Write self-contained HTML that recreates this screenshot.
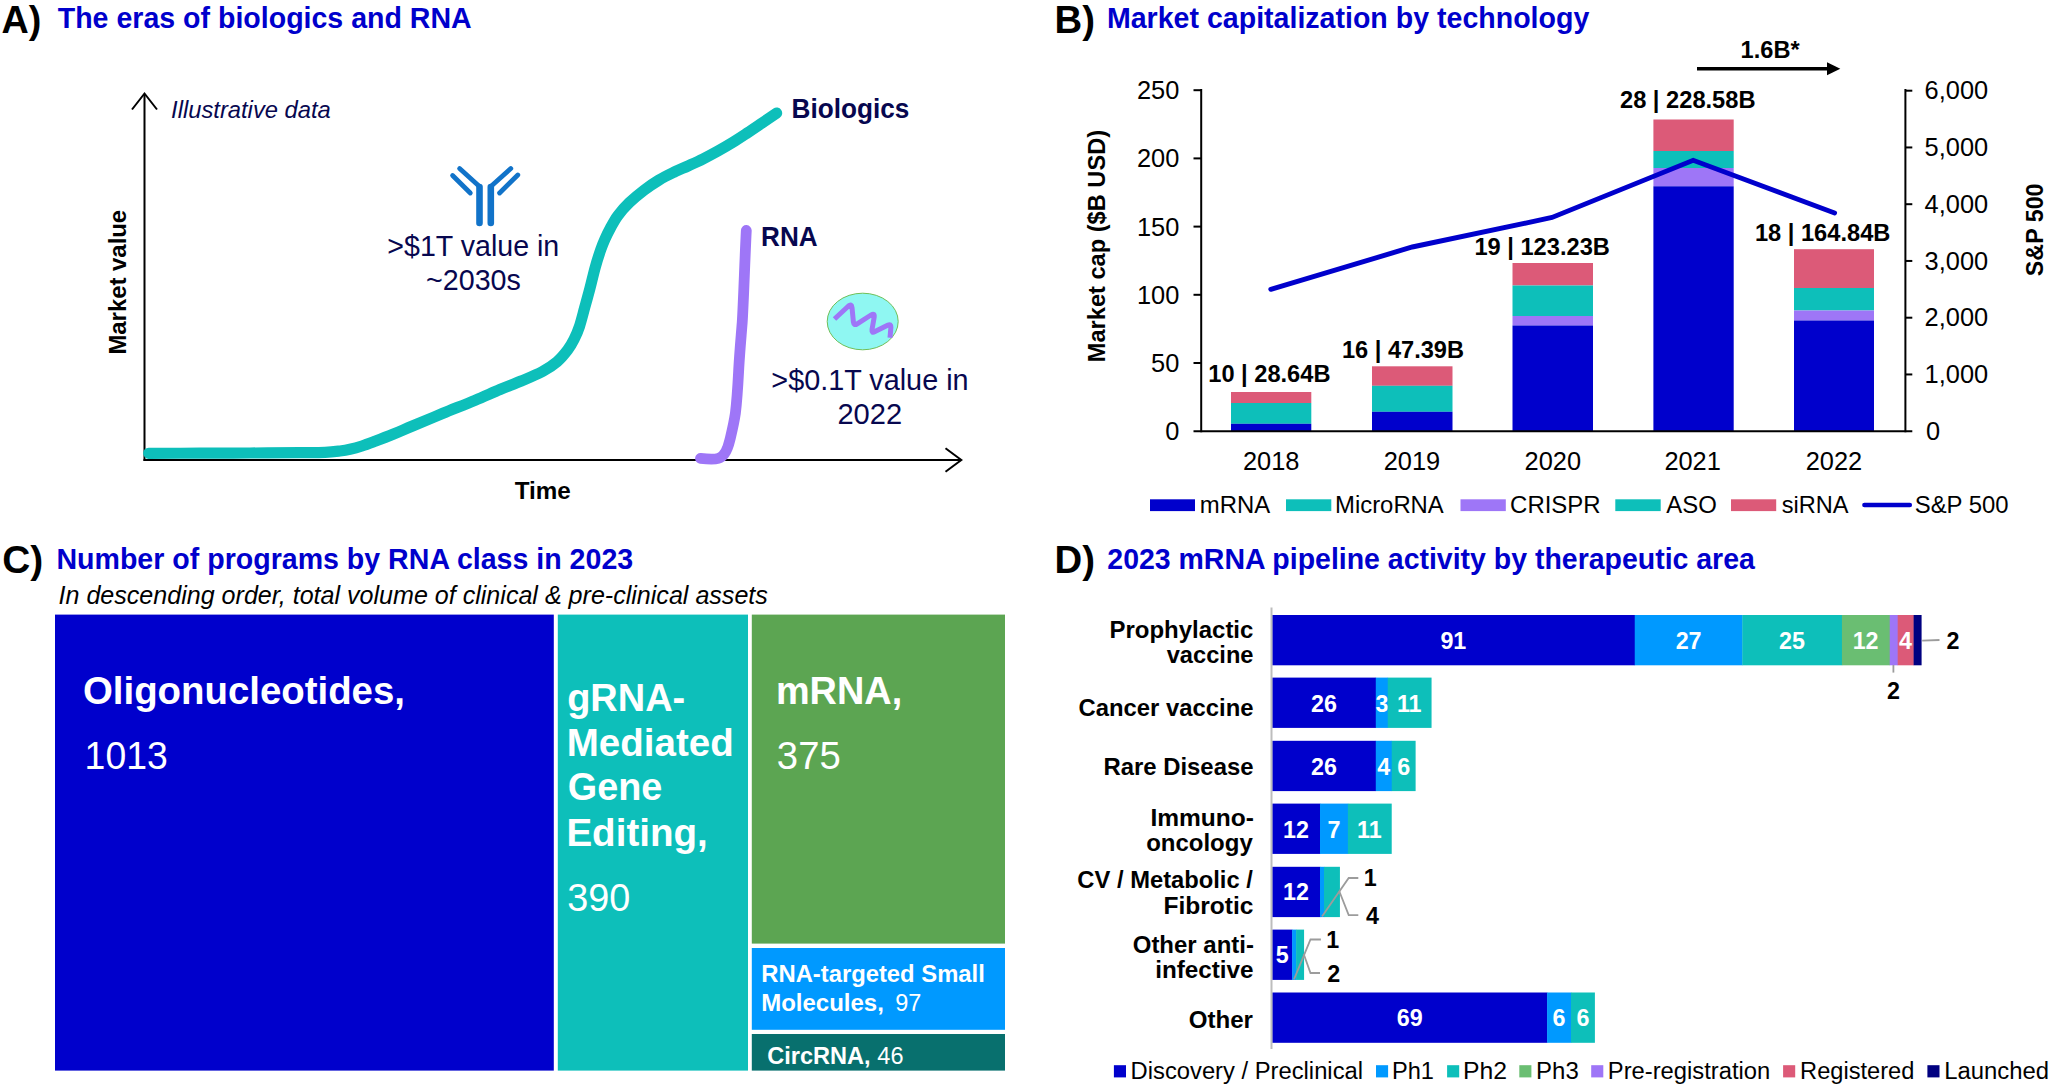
<!DOCTYPE html>
<html lang="en"><head><meta charset="utf-8"><title>RNA figure</title>
<style>html,body{margin:0;padding:0;background:#fff}svg{display:block}text{font-family:"Liberation Sans",sans-serif}</style></head><body>
<svg width="2050" height="1087" viewBox="0 0 2050 1087">
<rect width="2050" height="1087" fill="#fff"/>
<g id="panelA">
<text transform="translate(1.56,32.5) scale(0.9663,1)" font-size="39.07" fill="#000000" font-weight="bold" font-style="normal">A)</text>
<text transform="translate(57.71,27.5) scale(0.9788,1)" font-size="29.17" fill="#0000CC" font-weight="bold" font-style="normal">The eras of biologics and RNA</text>
<line x1="144.5" y1="94" x2="144.5" y2="461" stroke="#000000" stroke-width="2" />
<line x1="143.5" y1="460" x2="961" y2="460" stroke="#000000" stroke-width="2" />
<polyline points="132,109.5 144.5,93.5 157,109.5" fill="none" stroke="#000" stroke-width="2"/>
<polyline points="945.5,448.3 961.3,460 945.5,471.7" fill="none" stroke="#000" stroke-width="2"/>
<text transform="translate(171.05,117.6) scale(0.9786,1)" font-size="24.28" fill="#07074F" font-weight="normal" font-style="italic">Illustrative data</text>
<text transform="translate(126,354.55) rotate(-90) scale(0.9800,1)" font-size="24.38" fill="#000000" font-weight="bold">Market value</text>
<text transform="translate(514.76,499.4) scale(0.9817,1)" font-size="24.68" fill="#000000" font-weight="bold" font-style="normal">Time</text>
<path d="M148.7,453.3 C157.25,453.28 183.12,453.25 200,453.2 C216.88,453.15 233.33,453.08 250,453 C266.67,452.92 287.5,452.8 300,452.7 C312.5,452.6 318.33,452.68 325,452.4 C331.67,452.12 335.83,451.52 340,451 C344.17,450.48 346.33,450.13 350,449.3 C353.67,448.47 357.83,447.33 362,446 C366.17,444.67 369.83,443.25 375,441.3 C380.17,439.35 386.75,436.85 393,434.3 C399.25,431.75 404.17,429.5 412.5,426 C420.83,422.5 432.58,417.58 443,413.3 C453.42,409.02 465.5,404.27 475,400.3 C484.5,396.33 492.3,392.72 500,389.5 C507.7,386.28 514.15,383.98 521.2,381 C528.25,378.02 536.32,374.82 542.3,371.6 C548.28,368.38 552.87,365.32 557.1,361.7 C561.33,358.08 564.87,353.63 567.7,349.9 C570.53,346.17 572.15,343.18 574.1,339.3 C576.05,335.42 577.63,331.88 579.4,326.6 C581.17,321.32 582.95,313.95 584.7,307.6 C586.45,301.25 588.15,295.2 589.9,288.5 C591.65,281.8 593.38,273.9 595.2,267.4 C597.02,260.9 599.17,254.23 600.8,249.5 C602.43,244.77 603.42,242.53 605,239 C606.58,235.47 608.18,232.17 610.3,228.3 C612.42,224.43 614.52,220.08 617.7,215.8 C620.88,211.52 624.98,206.88 629.4,202.6 C633.82,198.32 639.28,193.85 644.2,190.1 C649.12,186.35 654,183.05 658.9,180.1 C663.8,177.15 668.7,174.78 673.6,172.4 C678.5,170.02 683.4,168.05 688.3,165.8 C693.2,163.55 698.1,161.35 703,158.9 C707.9,156.45 712.78,153.83 717.7,151.1 C722.62,148.37 727.58,145.52 732.5,142.5 C737.42,139.48 742.3,136.23 747.2,133 C752.1,129.77 757,126.42 761.9,123.1 C766.8,119.78 774.15,114.77 776.6,113.1" fill="none" stroke="#0DBFBA" stroke-width="11.2" stroke-linecap="round" stroke-linejoin="round"/>
<path d="M700.5,458.4 C708,459.2 714,459.6 718.4,458.4 C724,456.8 727.5,450 729.8,440.3 C732,431 734,423 735.4,413.2 C737.3,398 738,383 738.8,367.9 C739.7,352 741,338 742.2,322.6 C743.4,305 744.8,260 746.3,230.5" fill="none" stroke="#9E76F7" stroke-width="10.8" stroke-linecap="round" stroke-linejoin="round"/>
<text transform="translate(791.6,118.1) scale(0.9793,1)" font-size="26.72" fill="#07074F" font-weight="bold" font-style="normal">Biologics</text>
<text transform="translate(761.1,246.1) scale(0.9776,1)" font-size="26.72" fill="#07074F" font-weight="bold" font-style="normal">RNA</text>
<text transform="translate(387.37,255.7) scale(0.9769,1)" font-size="29.27" fill="#07074F" font-weight="normal" font-style="normal">&gt;$1T value in</text>
<text transform="translate(426.01,290) scale(0.9795,1)" font-size="29.27" fill="#07074F" font-weight="normal" font-style="normal">~2030s</text>
<text transform="translate(771.36,390) scale(0.9843,1)" font-size="29.27" fill="#07074F" font-weight="normal" font-style="normal">&gt;$0.1T value in</text>
<text transform="translate(837.45,424) scale(0.9936,1)" font-size="29.27" fill="#07074F" font-weight="normal" font-style="normal">2022</text>
<g stroke="#1173C9" stroke-width="6.6" stroke-linecap="round" fill="none"><line x1="479.5" y1="187" x2="479.5" y2="223"/><line x1="490.8" y1="187" x2="490.8" y2="223"/><line x1="479.5" y1="186.5" x2="459.6" y2="168.5" stroke-width="4.8"/><line x1="490.8" y1="186.5" x2="510.8" y2="168.5" stroke-width="4.8"/><line x1="470.3" y1="193" x2="452.6" y2="175.5" stroke-width="4.8"/><line x1="499.6" y1="193" x2="517.8" y2="175" stroke-width="4.8"/></g>
<ellipse cx="862.7" cy="321.5" rx="35.5" ry="28.3" fill="#8FF7F2" stroke="#70BF58" stroke-width="1"/>
<path d="M834.5,319 L848.5,306 Q851.5,303.4 852,307.5 L853.4,322 Q853.8,326 857.2,323.8 L871,315 Q874.8,312.6 874.2,317 L872,329.6 Q871.4,333.6 875,331.6 L887.6,325.2 Q891.2,323.4 890.9,327.4 L890,337.8" fill="none" stroke="#9E76F7" stroke-width="5" stroke-linejoin="round"/>
</g>
<g id="panelB">
<text transform="translate(1054.51,32.5) scale(0.9802,1)" font-size="39.07" fill="#000000" font-weight="bold" font-style="normal">B)</text>
<text transform="translate(1106.94,27.5) scale(0.9793,1)" font-size="29.17" fill="#0000CC" font-weight="bold" font-style="normal">Market capitalization by technology</text>
<text transform="translate(1740.58,57.6) scale(0.9811,1)" font-size="24.07" fill="#000000" font-weight="bold" font-style="normal">1.6B*</text>
<line x1="1697" y1="68.8" x2="1828" y2="68.8" stroke="#000000" stroke-width="3.5" />
<polygon points="1827,62.3 1840.3,68.8 1827,75.3" fill="#000"/>
<rect x="1231" y="392" width="80.3" height="11" fill="#DC5A78"/>
<rect x="1231" y="403" width="80.3" height="20.8" fill="#0DBFBA"/>
<rect x="1231" y="423.8" width="80.3" height="7.2" fill="#0000CC"/>
<rect x="1372" y="366.3" width="80.5" height="19.5" fill="#DC5A78"/>
<rect x="1372" y="385.8" width="80.5" height="26" fill="#0DBFBA"/>
<rect x="1372" y="411.8" width="80.5" height="19.2" fill="#0000CC"/>
<rect x="1512.5" y="263" width="80.5" height="22.5" fill="#DC5A78"/>
<rect x="1512.5" y="285.5" width="80.5" height="30.5" fill="#0DBFBA"/>
<rect x="1512.5" y="316" width="80.5" height="9.5" fill="#9E76F7"/>
<rect x="1512.5" y="325.5" width="80.5" height="105.5" fill="#0000CC"/>
<rect x="1653.4" y="119.5" width="80.3" height="31.5" fill="#DC5A78"/>
<rect x="1653.4" y="151" width="80.3" height="17" fill="#0DBFBA"/>
<rect x="1653.4" y="168" width="80.3" height="18.3" fill="#9E76F7"/>
<rect x="1653.4" y="186.3" width="80.3" height="244.7" fill="#0000CC"/>
<rect x="1794" y="249.2" width="80" height="38.8" fill="#DC5A78"/>
<rect x="1794" y="288" width="80" height="22.5" fill="#0DBFBA"/>
<rect x="1794" y="310.5" width="80" height="10" fill="#9E76F7"/>
<rect x="1794" y="320.5" width="80" height="110.5" fill="#0000CC"/>
<line x1="1201.2" y1="89" x2="1201.2" y2="432.2" stroke="#000000" stroke-width="2" />
<line x1="1905.4" y1="89" x2="1905.4" y2="432.2" stroke="#000000" stroke-width="2" />
<line x1="1193.5" y1="431.2" x2="1912.3" y2="431.2" stroke="#000000" stroke-width="2" />
<text transform="translate(1165.19,440.2) scale(0.9803,1)" font-size="25.91" fill="#000000" font-weight="normal" font-style="normal">0</text>
<line x1="1193.5" y1="363" x2="1201.2" y2="363" stroke="#000000" stroke-width="2" />
<text transform="translate(1151.1,372) scale(0.9803,1)" font-size="25.91" fill="#000000" font-weight="normal" font-style="normal">50</text>
<line x1="1193.5" y1="294.8" x2="1201.2" y2="294.8" stroke="#000000" stroke-width="2" />
<text transform="translate(1137,303.8) scale(0.9803,1)" font-size="25.91" fill="#000000" font-weight="normal" font-style="normal">100</text>
<line x1="1193.5" y1="226.6" x2="1201.2" y2="226.6" stroke="#000000" stroke-width="2" />
<text transform="translate(1137,235.6) scale(0.9803,1)" font-size="25.91" fill="#000000" font-weight="normal" font-style="normal">150</text>
<line x1="1193.5" y1="158.4" x2="1201.2" y2="158.4" stroke="#000000" stroke-width="2" />
<text transform="translate(1137,167.4) scale(0.9803,1)" font-size="25.91" fill="#000000" font-weight="normal" font-style="normal">200</text>
<line x1="1193.5" y1="90.2" x2="1201.2" y2="90.2" stroke="#000000" stroke-width="2" />
<text transform="translate(1137,99.2) scale(0.9803,1)" font-size="25.91" fill="#000000" font-weight="normal" font-style="normal">250</text>
<text transform="translate(1926.09,439.9) scale(0.9803,1)" font-size="25.91" fill="#000000" font-weight="normal" font-style="normal">0</text>
<line x1="1905.4" y1="374.45" x2="1912.3" y2="374.45" stroke="#000000" stroke-width="2" />
<text transform="translate(1924.59,383.15) scale(0.9803,1)" font-size="25.91" fill="#000000" font-weight="normal" font-style="normal">1,000</text>
<line x1="1905.4" y1="317.7" x2="1912.3" y2="317.7" stroke="#000000" stroke-width="2" />
<text transform="translate(1924.59,326.4) scale(0.9803,1)" font-size="25.91" fill="#000000" font-weight="normal" font-style="normal">2,000</text>
<line x1="1905.4" y1="260.95" x2="1912.3" y2="260.95" stroke="#000000" stroke-width="2" />
<text transform="translate(1924.59,269.65) scale(0.9803,1)" font-size="25.91" fill="#000000" font-weight="normal" font-style="normal">3,000</text>
<line x1="1905.4" y1="204.2" x2="1912.3" y2="204.2" stroke="#000000" stroke-width="2" />
<text transform="translate(1924.59,212.9) scale(0.9803,1)" font-size="25.91" fill="#000000" font-weight="normal" font-style="normal">4,000</text>
<line x1="1905.4" y1="147.45" x2="1912.3" y2="147.45" stroke="#000000" stroke-width="2" />
<text transform="translate(1924.59,156.15) scale(0.9803,1)" font-size="25.91" fill="#000000" font-weight="normal" font-style="normal">5,000</text>
<line x1="1905.4" y1="90.7" x2="1912.3" y2="90.7" stroke="#000000" stroke-width="2" />
<text transform="translate(1924.59,99.4) scale(0.9803,1)" font-size="25.91" fill="#000000" font-weight="normal" font-style="normal">6,000</text>
<text transform="translate(1242.92,469.6) scale(0.9803,1)" font-size="25.91" fill="#000000" font-weight="normal" font-style="normal">2018</text>
<text transform="translate(1383.68,469.6) scale(0.9803,1)" font-size="25.91" fill="#000000" font-weight="normal" font-style="normal">2019</text>
<text transform="translate(1524.55,469.6) scale(0.9803,1)" font-size="25.91" fill="#000000" font-weight="normal" font-style="normal">2020</text>
<text transform="translate(1664.38,469.6) scale(0.9803,1)" font-size="25.91" fill="#000000" font-weight="normal" font-style="normal">2021</text>
<text transform="translate(1805.74,469.6) scale(0.9803,1)" font-size="25.91" fill="#000000" font-weight="normal" font-style="normal">2022</text>
<polyline points="1270.8,289.3 1412.3,247 1552,217.5 1693.2,160.3 1834.6,213" fill="none" stroke="#0000CC" stroke-width="4.9" stroke-linecap="round" stroke-linejoin="miter"/>
<text transform="translate(1208.28,381.6) scale(0.9778,1)" font-size="24.17" fill="#000000" font-weight="bold" font-style="normal">10 | 28.64B</text>
<text transform="translate(1341.88,358.1) scale(0.9778,1)" font-size="24.17" fill="#000000" font-weight="bold" font-style="normal">16 | 47.39B</text>
<text transform="translate(1474.38,254.9) scale(0.9791,1)" font-size="24.17" fill="#000000" font-weight="bold" font-style="normal">19 | 123.23B</text>
<text transform="translate(1619.97,107.6) scale(0.9799,1)" font-size="24.17" fill="#000000" font-weight="bold" font-style="normal">28 | 228.58B</text>
<text transform="translate(1754.88,240.6) scale(0.9791,1)" font-size="24.17" fill="#000000" font-weight="bold" font-style="normal">18 | 164.84B</text>
<text transform="translate(1105,362.24) rotate(-90) scale(0.9817,1)" font-size="24.07" fill="#000000" font-weight="bold">Market cap ($B USD)</text>
<text transform="translate(2042.6,276.2) rotate(-90) scale(0.9800,1)" font-size="23.77" fill="#000000" font-weight="bold">S&amp;P 500</text>
<rect x="1150" y="499.3" width="45" height="11.8" fill="#0000CC"/>
<text transform="translate(1199.75,513) scale(0.9801,1)" font-size="24.38" fill="#000000" font-weight="normal" font-style="normal">mRNA</text>
<rect x="1286" y="499.3" width="45.3" height="11.8" fill="#0DBFBA"/>
<text transform="translate(1335.09,513) scale(0.9789,1)" font-size="24.38" fill="#000000" font-weight="normal" font-style="normal">MicroRNA</text>
<rect x="1460.5" y="499.3" width="45.3" height="11.8" fill="#9E76F7"/>
<text transform="translate(1510.1,513) scale(0.9831,1)" font-size="24.38" fill="#000000" font-weight="normal" font-style="normal">CRISPR</text>
<rect x="1615.3" y="499.3" width="45.4" height="11.8" fill="#0DBFBA"/>
<text transform="translate(1666.3,513) scale(0.9812,1)" font-size="24.38" fill="#000000" font-weight="normal" font-style="normal">ASO</text>
<rect x="1731" y="499.3" width="45.2" height="11.8" fill="#DC5A78"/>
<text transform="translate(1781.79,513) scale(0.9668,1)" font-size="24.38" fill="#000000" font-weight="normal" font-style="normal">siRNA</text>
<line x1="1864.4" y1="505" x2="1909.8" y2="505" stroke="#0000CC" stroke-width="4.5" stroke-linecap="round"/>
<text transform="translate(1914.72,513) scale(0.9802,1)" font-size="24.38" fill="#000000" font-weight="normal" font-style="normal">S&amp;P 500</text>
</g>
<g id="panelC">
<text transform="translate(2.25,573.2) scale(0.9946,1)" font-size="39.07" fill="#000000" font-weight="bold" font-style="normal">C)</text>
<text transform="translate(56.44,568.8) scale(0.9797,1)" font-size="29.17" fill="#0000CC" font-weight="bold" font-style="normal">Number of programs by RNA class in 2023</text>
<text transform="translate(58.5,604.4) scale(0.9801,1)" font-size="25.6" fill="#000000" font-weight="normal" font-style="italic">In descending order, total volume of clinical &amp; pre-clinical assets</text>
<rect x="55" y="614.6" width="498.8" height="456" fill="#0000CC"/>
<rect x="557.8" y="614.6" width="190.2" height="456" fill="#0DBFBA"/>
<rect x="751.8" y="614.6" width="253.2" height="329" fill="#5CA552"/>
<rect x="751.8" y="948" width="253.2" height="81.8" fill="#0099FF"/>
<rect x="751.8" y="1034" width="253.2" height="36.6" fill="#08706E"/>
<text transform="translate(82.96,704.3) scale(0.9805,1)" font-size="39.17" fill="#FFFFFF" font-weight="bold" font-style="normal">Oligonucleotides,</text>
<text transform="translate(84.6,769.4) scale(0.9571,1)" font-size="39.07" fill="#FFFFFF" font-weight="normal" font-style="normal">1013</text>
<text transform="translate(567.18,710.6) scale(0.9690,1)" font-size="39.17" fill="#FFFFFF" font-weight="bold" font-style="normal">gRNA-</text>
<text transform="translate(566.8,755.8) scale(0.9835,1)" font-size="39.17" fill="#FFFFFF" font-weight="bold" font-style="normal">Mediated</text>
<text transform="translate(567.79,800.1) scale(0.9654,1)" font-size="39.17" fill="#FFFFFF" font-weight="bold" font-style="normal">Gene</text>
<text transform="translate(566.39,845.8) scale(0.9851,1)" font-size="39.17" fill="#FFFFFF" font-weight="bold" font-style="normal">Editing,</text>
<text transform="translate(567.19,911) scale(0.9675,1)" font-size="39.07" fill="#FFFFFF" font-weight="normal" font-style="normal">390</text>
<text transform="translate(775.94,704.4) scale(0.9669,1)" font-size="39.17" fill="#FFFFFF" font-weight="bold" font-style="normal">mRNA,</text>
<text transform="translate(776.87,769.4) scale(0.9786,1)" font-size="39.07" fill="#FFFFFF" font-weight="normal" font-style="normal">375</text>
<text transform="translate(761.25,982) scale(0.9939,1)" font-size="23.97" fill="#FFFFFF" font-weight="bold" font-style="normal">RNA-targeted Small</text>
<text transform="translate(761.24,1010.7) scale(1.0011,1)" font-size="23.97" fill="#FFFFFF" font-weight="bold" font-style="normal">Molecules,</text>
<text transform="translate(895.14,1010.7) scale(0.9804,1)" font-size="23.97" fill="#FFFFFF" font-weight="normal" font-style="normal">97</text>
<text transform="translate(767.26,1064.4) scale(0.9825,1)" font-size="23.97" fill="#FFFFFF" font-weight="bold" font-style="normal">CircRNA,</text>
<text transform="translate(877.33,1064.4) scale(0.9804,1)" font-size="23.97" fill="#FFFFFF" font-weight="normal" font-style="normal">46</text>
</g>
<g id="panelD">
<text transform="translate(1054.51,573.2) scale(0.9802,1)" font-size="39.07" fill="#000000" font-weight="bold" font-style="normal">D)</text>
<text transform="translate(1107.3,568.8) scale(0.9763,1)" font-size="29.17" fill="#0000CC" font-weight="bold" font-style="normal">2023 mRNA pipeline activity by therapeutic area</text>
<rect x="1272.2" y="615" width="362.84" height="50.3" fill="#0000CC"/>
<text transform="translate(1440.42,648.6) scale(0.9802,1)" font-size="23.77" fill="#FFFFFF" font-weight="bold" font-style="normal">91</text>
<rect x="1634.74" y="615" width="107.87" height="50.3" fill="#0099FF"/>
<text transform="translate(1675.65,648.6) scale(0.9802,1)" font-size="23.77" fill="#FFFFFF" font-weight="bold" font-style="normal">27</text>
<rect x="1742.31" y="615" width="99.9" height="50.3" fill="#0DBFBA"/>
<text transform="translate(1779.06,648.6) scale(0.9802,1)" font-size="23.77" fill="#FFFFFF" font-weight="bold" font-style="normal">25</text>
<rect x="1841.91" y="615" width="48.11" height="50.3" fill="#6ABE72"/>
<text transform="translate(1852.65,648.6) scale(0.9802,1)" font-size="23.77" fill="#FFFFFF" font-weight="bold" font-style="normal">12</text>
<rect x="1889.72" y="615" width="8.27" height="50.3" fill="#9E76F7"/>
<rect x="1897.69" y="615" width="16.24" height="50.3" fill="#DC5A78"/>
<text transform="translate(1899.07,648.6) scale(0.9802,1)" font-size="23.77" fill="#FFFFFF" font-weight="bold" font-style="normal">4</text>
<rect x="1913.62" y="615" width="7.97" height="50.3" fill="#000080"/>
<rect x="1272.2" y="677.6" width="103.88" height="50.3" fill="#0000CC"/>
<text transform="translate(1311.06,711.9) scale(0.9802,1)" font-size="23.77" fill="#FFFFFF" font-weight="bold" font-style="normal">26</text>
<rect x="1375.78" y="677.6" width="12.25" height="50.3" fill="#0099FF"/>
<text transform="translate(1375.41,711.9) scale(0.9802,1)" font-size="23.77" fill="#FFFFFF" font-weight="bold" font-style="normal">3</text>
<rect x="1387.74" y="677.6" width="43.82" height="50.3" fill="#0DBFBA"/>
<text transform="translate(1396.95,711.9) scale(0.9802,1)" font-size="23.77" fill="#FFFFFF" font-weight="bold" font-style="normal">11</text>
<rect x="1272.2" y="740.8" width="103.88" height="50.3" fill="#0000CC"/>
<text transform="translate(1311.06,774.9) scale(0.9802,1)" font-size="23.77" fill="#FFFFFF" font-weight="bold" font-style="normal">26</text>
<rect x="1375.78" y="740.8" width="16.24" height="50.3" fill="#0099FF"/>
<text transform="translate(1377.17,774.9) scale(0.9802,1)" font-size="23.77" fill="#FFFFFF" font-weight="bold" font-style="normal">4</text>
<rect x="1391.72" y="740.8" width="23.9" height="50.3" fill="#0DBFBA"/>
<text transform="translate(1397.21,774.9) scale(0.9802,1)" font-size="23.77" fill="#FFFFFF" font-weight="bold" font-style="normal">6</text>
<rect x="1272.2" y="803.6" width="48.11" height="50.3" fill="#0000CC"/>
<text transform="translate(1282.94,837.6) scale(0.9802,1)" font-size="23.77" fill="#FFFFFF" font-weight="bold" font-style="normal">12</text>
<rect x="1320.01" y="803.6" width="28.19" height="50.3" fill="#0099FF"/>
<text transform="translate(1327.49,837.6) scale(0.9802,1)" font-size="23.77" fill="#FFFFFF" font-weight="bold" font-style="normal">7</text>
<rect x="1347.9" y="803.6" width="43.82" height="50.3" fill="#0DBFBA"/>
<text transform="translate(1357.11,837.6) scale(0.9802,1)" font-size="23.77" fill="#FFFFFF" font-weight="bold" font-style="normal">11</text>
<rect x="1272.2" y="866.8" width="48.11" height="50.3" fill="#0000CC"/>
<text transform="translate(1282.94,900.4) scale(0.9802,1)" font-size="23.77" fill="#FFFFFF" font-weight="bold" font-style="normal">12</text>
<rect x="1320.01" y="866.8" width="4.28" height="50.3" fill="#0099FF"/>
<rect x="1323.99" y="866.8" width="15.94" height="50.3" fill="#0DBFBA"/>
<rect x="1272.2" y="929.6" width="20.22" height="50.3" fill="#0000CC"/>
<text transform="translate(1275.64,963.3) scale(0.9802,1)" font-size="23.77" fill="#FFFFFF" font-weight="bold" font-style="normal">5</text>
<rect x="1292.12" y="929.6" width="4.28" height="50.3" fill="#0099FF"/>
<rect x="1296.1" y="929.6" width="7.97" height="50.3" fill="#0DBFBA"/>
<rect x="1272.2" y="992.5" width="275.2" height="50.3" fill="#0000CC"/>
<text transform="translate(1396.72,1026.1) scale(0.9802,1)" font-size="23.77" fill="#FFFFFF" font-weight="bold" font-style="normal">69</text>
<rect x="1547.1" y="992.5" width="24.2" height="50.3" fill="#0099FF"/>
<text transform="translate(1552.58,1026.1) scale(0.9802,1)" font-size="23.77" fill="#FFFFFF" font-weight="bold" font-style="normal">6</text>
<rect x="1571" y="992.5" width="23.9" height="50.3" fill="#0DBFBA"/>
<text transform="translate(1576.49,1026.1) scale(0.9802,1)" font-size="23.77" fill="#FFFFFF" font-weight="bold" font-style="normal">6</text>
<line x1="1271.5" y1="607.5" x2="1271.5" y2="1049" stroke="#BDBDBD" stroke-width="2" />
<text transform="translate(1109.44,637.8) scale(0.9970,1)" font-size="24.07" fill="#000000" font-weight="bold" font-style="normal">Prophylactic</text>
<text transform="translate(1166.68,663.1) scale(0.9831,1)" font-size="24.07" fill="#000000" font-weight="bold" font-style="normal">vaccine</text>
<text transform="translate(1078.55,715.6) scale(0.9911,1)" font-size="24.07" fill="#000000" font-weight="bold" font-style="normal">Cancer vaccine</text>
<text transform="translate(1103.45,774.9) scale(0.9929,1)" font-size="24.07" fill="#000000" font-weight="bold" font-style="normal">Rare Disease</text>
<text transform="translate(1150.4,826.1) scale(1.0195,1)" font-size="24.07" fill="#000000" font-weight="bold" font-style="normal">Immuno-</text>
<text transform="translate(1146.14,850.7) scale(0.9971,1)" font-size="24.07" fill="#000000" font-weight="bold" font-style="normal">oncology</text>
<text transform="translate(1077.35,888.1) scale(0.9871,1)" font-size="24.07" fill="#000000" font-weight="bold" font-style="normal">CV / Metabolic /</text>
<text transform="translate(1163.51,913.6) scale(1.0194,1)" font-size="24.07" fill="#000000" font-weight="bold" font-style="normal">Fibrotic</text>
<text transform="translate(1132.74,952.6) scale(0.9961,1)" font-size="24.07" fill="#000000" font-weight="bold" font-style="normal">Other anti-</text>
<text transform="translate(1155.2,978.3) scale(1.0076,1)" font-size="24.07" fill="#000000" font-weight="bold" font-style="normal">infective</text>
<text transform="translate(1188.74,1027.5) scale(1.0009,1)" font-size="24.07" fill="#000000" font-weight="bold" font-style="normal">Other</text>
<polyline points="1922.2,640.7 1939.5,640" fill="none" stroke="#9C9C9C" stroke-width="1.8"/>
<text transform="translate(1946.49,648.6) scale(0.9802,1)" font-size="23.77" fill="#000000" font-weight="bold" font-style="normal">2</text>
<line x1="1893.4" y1="665" x2="1893.4" y2="672.6" stroke="#9C9C9C" stroke-width="1.8" />
<text transform="translate(1887.09,698.6) scale(0.9802,1)" font-size="23.77" fill="#000000" font-weight="bold" font-style="normal">2</text>
<polyline points="1322,916.5 1348.7,878 1358.3,878" fill="none" stroke="#9C9C9C" stroke-width="1.8"/>
<polyline points="1339.2,891 1348.7,915.1 1358.3,915.1" fill="none" stroke="#9C9C9C" stroke-width="1.8"/>
<text transform="translate(1363.65,886.2) scale(0.9802,1)" font-size="23.77" fill="#000000" font-weight="bold" font-style="normal">1</text>
<text transform="translate(1366.02,923.9) scale(0.9802,1)" font-size="23.77" fill="#000000" font-weight="bold" font-style="normal">4</text>
<polyline points="1294,979.3 1310.5,939.5 1320.9,939.5" fill="none" stroke="#9C9C9C" stroke-width="1.8"/>
<polyline points="1303.7,954 1310.5,973 1320,973" fill="none" stroke="#9C9C9C" stroke-width="1.8"/>
<text transform="translate(1326.25,948.3) scale(0.9802,1)" font-size="23.77" fill="#000000" font-weight="bold" font-style="normal">1</text>
<text transform="translate(1327.29,982.4) scale(0.9802,1)" font-size="23.77" fill="#000000" font-weight="bold" font-style="normal">2</text>
<rect x="1113.9" y="1065.2" width="12.1" height="12.2" fill="#0000CC"/>
<text transform="translate(1130.6,1078.8) scale(0.9883,1)" font-size="24.07" fill="#000000" font-weight="normal" font-style="normal">Discovery / Preclinical</text>
<rect x="1376" y="1065.2" width="12.1" height="12.2" fill="#0099FF"/>
<text transform="translate(1391.91,1078.8) scale(0.9815,1)" font-size="24.07" fill="#000000" font-weight="normal" font-style="normal">Ph1</text>
<rect x="1447.1" y="1065.2" width="12.1" height="12.2" fill="#0DBFBA"/>
<text transform="translate(1462.92,1078.8) scale(1.0298,1)" font-size="24.07" fill="#000000" font-weight="normal" font-style="normal">Ph2</text>
<rect x="1519.3" y="1065.2" width="12.1" height="12.2" fill="#6ABE72"/>
<text transform="translate(1536.08,1078.8) scale(0.9961,1)" font-size="24.07" fill="#000000" font-weight="normal" font-style="normal">Ph3</text>
<rect x="1591.2" y="1065.2" width="12.1" height="12.2" fill="#9E76F7"/>
<text transform="translate(1607.8,1078.8) scale(0.9880,1)" font-size="24.07" fill="#000000" font-weight="normal" font-style="normal">Pre-registration</text>
<rect x="1783.1" y="1065.2" width="12.1" height="12.2" fill="#DC5A78"/>
<text transform="translate(1800.11,1078.8) scale(0.9824,1)" font-size="24.07" fill="#000000" font-weight="normal" font-style="normal">Registered</text>
<rect x="1927.4" y="1065.2" width="12.1" height="12.2" fill="#000080"/>
<text transform="translate(1944.19,1078.8) scale(0.9914,1)" font-size="24.07" fill="#000000" font-weight="normal" font-style="normal">Launched</text>
</g>
</svg></body></html>
